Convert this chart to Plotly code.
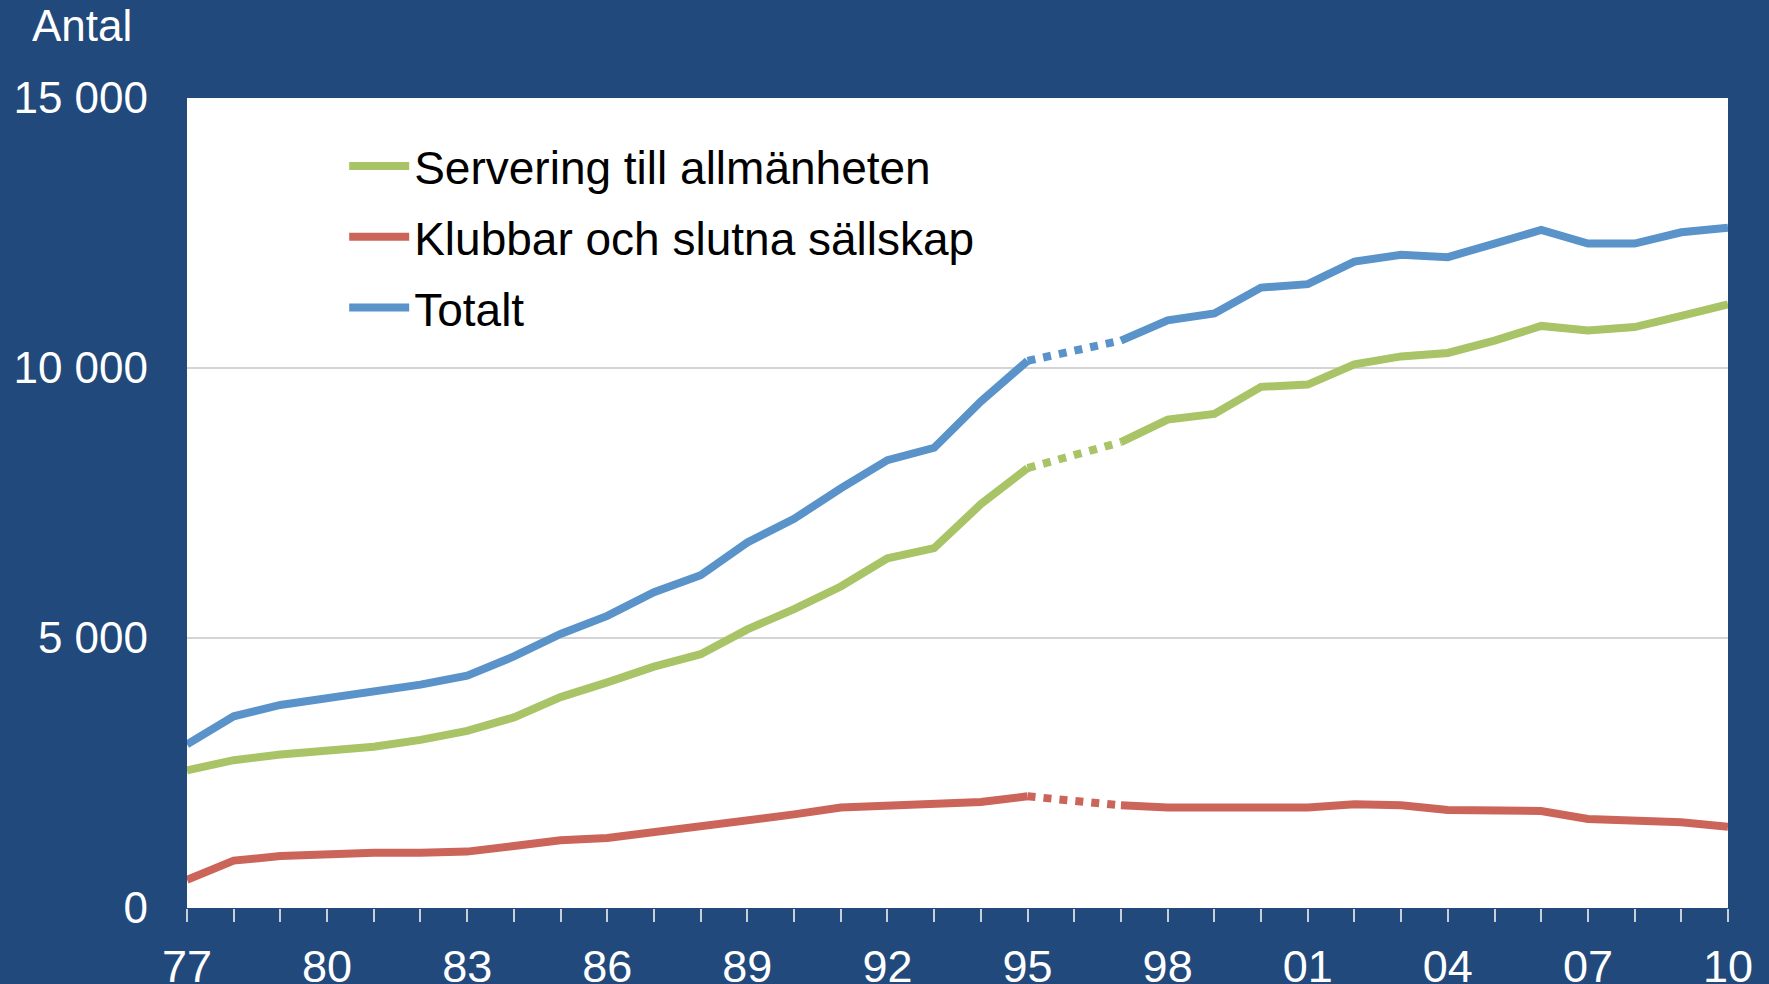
import plotly.graph_objects as go

# Data (1996 missing -> dotted connector between 1995 and 1997)
years = list(range(1977, 2011))
servering = [2549, 2737, 2841, 2904, 2987, 3113, 3280, 3530, 3906, 4178,
             4470, 4700, 5160, 5536, 5954, 6476, 6664, 7479, 8147, None,
             8627, 9045, 9150, 9651, 9693, 10069, 10215, 10278, 10508, 10779,
             10696, 10758, 10967, 11176]
klubbar = [522, 877, 961, 1003, 1024, 1024, 1044, 1149, 1253, 1295,
           1400, 1504, 1629, 1734, 1859, 1901, 1922, 1964, 2068, None,
           1901, 1859, 1859, 1859, 1859, 1922, 1901, 1817, 1817, 1796,
           1650, 1609, 1588, 1504]
totalt = [3030, 3551, 3760, 3885, 3990, 4136, 4303, 4658, 5076, 5410,
          5849, 6163, 6768, 7207, 7771, 8293, 8523, 9380, 10132, None,
          10508, 10884, 11009, 11489, 11552, 11970, 12095, 12053, 12304, 12555,
          12304, 12304, 12513, 12597]
tick_years = years
tick_text = [f"{y % 100:02d}" if (y - 1977) % 3 == 0 else "" for y in years]

series = [
    ("Servering till allmänheten", servering, "#a8c466"),
    ("Klubbar och slutna sällskap", klubbar, "#cb655a"),
    ("Totalt", totalt, "#5a93c9"),
]

bg = "#21497c"
fig = go.Figure()
for name, vals, col in series:
    fig.add_trace(go.Scatter(x=years, y=vals, mode="lines", name=name, legendgroup=name,
                             line=dict(color=col, width=8), connectgaps=False))
    # dotted bridge over the gap
    i = years.index(1996)
    fig.add_trace(go.Scatter(x=[years[i - 1], years[i + 1]], y=[vals[i - 1], vals[i + 1]],
                             mode="lines", showlegend=False, hoverinfo="skip", legendgroup=name,
                             line=dict(color=col, width=8, dash="dot")))

fig.update_layout(
    width=1769, height=984,
    paper_bgcolor=bg, plot_bgcolor="white",
    margin=dict(l=187, r=41, t=98, b=76),
    font=dict(family="Liberation Sans, Arial", size=44, color="white"),
    showlegend=True,
    legend=dict(x=0.102, y=0.961, xanchor="left", yanchor="top",
                bgcolor="rgba(0,0,0,0)", font=dict(size=46, color="black"),
                tracegroupgap=8, itemwidth=60),
)
fig.update_xaxes(range=[1977, 2010], tickvals=tick_years, ticktext=tick_text,
                 ticks="outside", ticklen=13, tickwidth=2, tickcolor="#c9cfd8",
                 showgrid=False, zeroline=False, showline=False, automargin=False,
                 tickfont=dict(size=45), ticklabelstandoff=6)
fig.update_yaxes(range=[0, 15000], tickvals=[0, 5000, 10000, 15000],
                 ticktext=["0", "5 000", "10 000", "15 000"],
                 showgrid=True, gridcolor="#d4d4d4", gridwidth=2,
                 zeroline=False, showline=False, ticks="", automargin=False,
                 ticklabelstandoff=38)
fig.add_annotation(text="Antal", xref="paper", yref="paper", x=-0.102, y=1.09,
                   xanchor="left", yanchor="middle", showarrow=False,
                   font=dict(size=44, color="white"))

fig.write_html("out.html", config={"displayModeBar": False},
               post_script="document.body.style.margin='0';document.body.style.overflow='hidden';")
